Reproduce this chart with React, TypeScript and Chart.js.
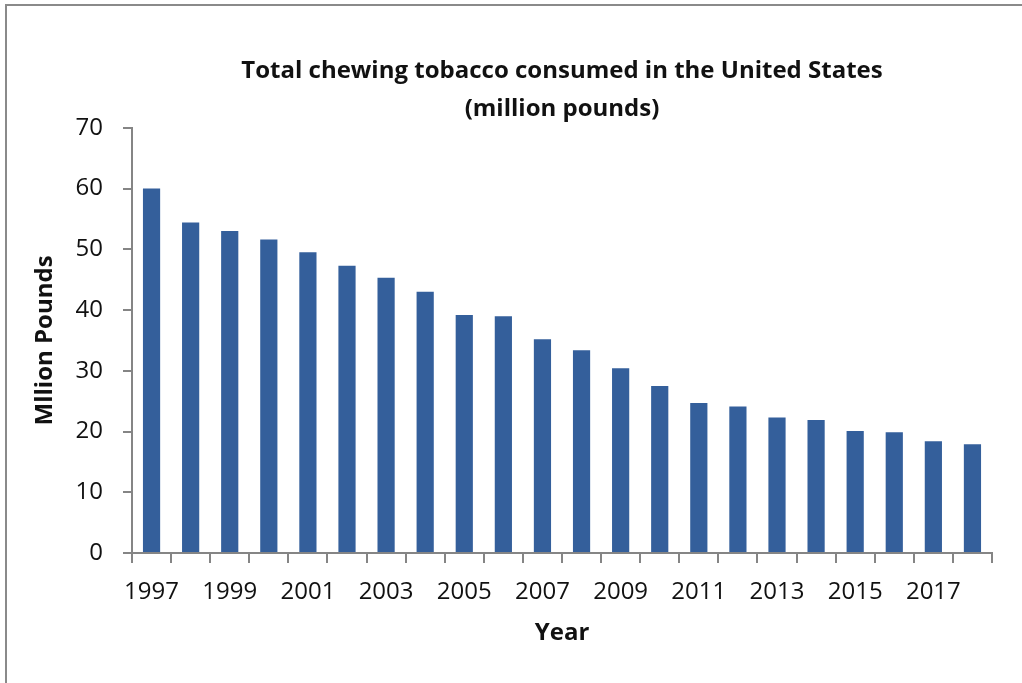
import React, { useEffect, useRef } from "react";
import { Chart, registerables } from "chart.js";

Chart.register(...registerables);

const years = [
  "1997", "1998", "1999", "2000", "2001", "2002", "2003", "2004", "2005", "2006", "2007",
  "2008", "2009", "2010", "2011", "2012", "2013", "2014", "2015", "2016", "2017", "2018",
];
const consumption = [
  60.0, 54.4, 53.0, 51.6, 49.5, 47.3, 45.3, 43.0, 39.2, 39.0, 35.2,
  33.4, 30.4, 27.5, 24.7, 24.1, 22.3, 21.9, 20.1, 19.9, 18.4, 17.9,
];
const labeledYears = ["1997", "1999", "2001", "2003", "2005", "2007", "2009", "2011", "2013", "2015", "2017"];
const titleLines = ["Total chewing tobacco consumed in the United States", "(million pounds)"];
const xTitle = "Year";
const yTitle = "Mllion Pounds";

const FONT = "'Open Sans', 'DejaVu Sans', sans-serif";
const AXIS = "#858585";

export default function App() {
  const ref = useRef<HTMLCanvasElement | null>(null);
  useEffect(() => {
    if (!ref.current) return;
    const chart = new Chart(ref.current, {
      type: "bar",
      data: {
        labels: years,
        datasets: [
          {
            data: consumption,
            backgroundColor: "#345F9B",
            borderWidth: 0,
            categoryPercentage: 1,
            barPercentage: 0.44,
          },
        ],
      },
      options: {
        animation: false,
        responsive: false,
        maintainAspectRatio: false,
        layout: { padding: { top: 0, left: 0, right: 30, bottom: 0 } },
        plugins: {
          legend: { display: false },
          tooltip: { enabled: false },
          title: {
            display: true,
            fullSize: false,
            text: titleLines,
            color: "#111",
            font: { family: FONT, size: 24, weight: "bold", lineHeight: 1.58 },
            padding: { top: 52, bottom: 0 },
          },
        },
        scales: {
          x: {
            afterFit: (s: any) => {
              s.height = 130;
            },
            grid: {
              display: true,
              offset: true,
              drawOnChartArea: false,
              drawTicks: true,
              tickLength: 10,
              color: AXIS,
              lineWidth: 2,
            },
            border: { display: true, color: AXIS, width: 2 },
            ticks: {
              autoSkip: false,
              maxRotation: 0,
              padding: 15,
              color: "#111",
              font: { family: FONT, size: 24 },
              callback: (_v: any, i: number) => (labeledYears.includes(years[i]) ? years[i] : ""),
            },
            title: {
              display: true,
              text: xTitle,
              color: "#111",
              font: { family: FONT, size: 24, weight: "bold" },
              padding: { top: 0, bottom: 35 },
            },
          },
          y: {
            min: 0,
            max: 70,
            afterFit: (s: any) => {
              s.width = 132;
            },
            grid: {
              display: true,
              drawOnChartArea: false,
              drawTicks: true,
              tickLength: 9,
              color: AXIS,
              lineWidth: 2,
            },
            border: { display: true, color: AXIS, width: 2 },
            ticks: {
              stepSize: 10,
              padding: 20,
              color: "#111",
              font: { family: FONT, size: 24 },
            },
            title: {
              display: true,
              text: yTitle,
              color: "#111",
              font: { family: FONT, size: 24, weight: "bold" },
              padding: { top: 31, bottom: 0 },
            },
          },
        },
      },
    });
    return () => chart.destroy();
  }, []);

  return (
    <div
      style={{
        position: "fixed",
        left: 0,
        top: 0,
        width: 1022,
        height: 683,
        overflow: "hidden",
        background: "#fff",
      }}
    >
      <div
        style={{
          position: "absolute",
          left: 5,
          top: 4,
          width: 1100,
          height: 800,
          border: "2px solid #8a8a8a",
        }}
      />
      <canvas ref={ref} width={1022} height={683} style={{ position: "absolute", left: 0, top: 0 }} />
    </div>
  );
}
